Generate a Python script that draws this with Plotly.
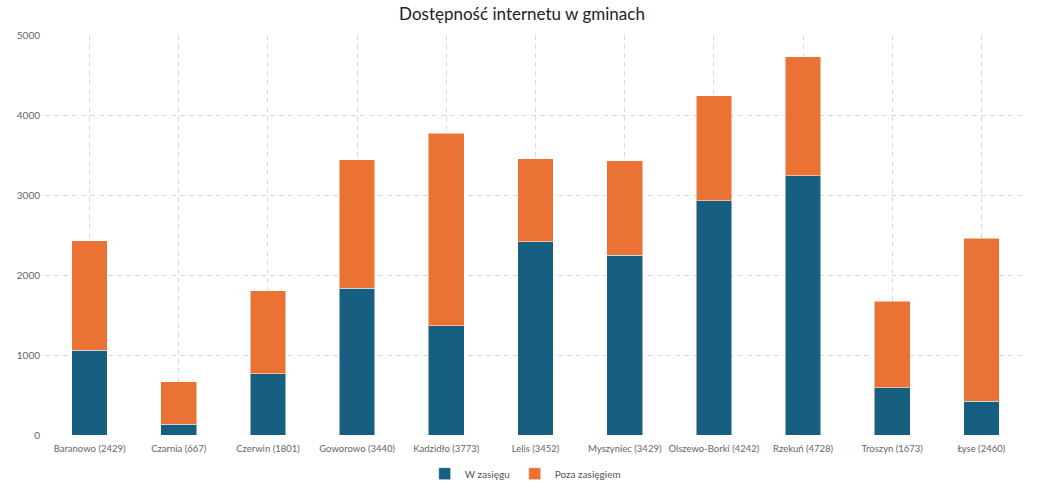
import plotly.graph_objects as go

categories = ["Baranowo (2429)", "Czarnia (667)", "Czerwin (1801)", "Goworowo (3440)",
              "Kadzidło (3773)", "Lelis (3452)", "Myszyniec (3429)", "Olszewo-Borki (4242)",
              "Rzekuń (4728)", "Troszyn (1673)", "Łyse (2460)"]
totals = [2429, 667, 1801, 3440, 3773, 3452, 3429, 4242, 4728, 1673, 2460]
w_zasiegu = [1062, 137, 766, 1833, 1367, 2417, 2246, 2929, 3242, 591, 425]
poza_zasiegiem = [t - w for t, w in zip(totals, w_zasiegu)]

BLUE = "#175f81"
ORANGE = "#e97234"

fig = go.Figure()
fig.add_trace(go.Bar(x=categories, y=w_zasiegu, name="W zasięgu",
                     marker=dict(color=BLUE, line=dict(color="rgba(255,255,255,0.5)", width=1)),
                     width=0.4))
fig.add_trace(go.Bar(x=categories, y=poza_zasiegiem, name="Poza zasięgiem",
                     marker=dict(color=ORANGE, line=dict(color="rgba(255,255,255,0.5)", width=1)),
                     width=0.4))

fig.update_layout(
    barmode="stack",
    width=1044, height=496,
    margin=dict(l=45, r=18, t=35, b=61, autoexpand=False),
    paper_bgcolor="white", plot_bgcolor="white",
    font=dict(family="Lato", color="#666666", size=10),
    title=dict(text="Dostępność internetu w gminach", x=0.5, xanchor="center",
               y=0.972, yanchor="middle", font=dict(size=17, color="#222222", family="Lato")),
    legend=dict(orientation="h", x=0.49, xanchor="center", yref="container",
                y=0.045, yanchor="middle", itemwidth=30,
                font=dict(size=10, color="#555555"), traceorder="normal"),
    xaxis=dict(showgrid=True, gridcolor="#d9d9d9", griddash="5px,4px", gridwidth=1,
               tickfont=dict(size=9.5, color="#666666"), ticks="", showline=False,
               zeroline=False, ticklabelstandoff=6, automargin=False),
    yaxis=dict(range=[0, 5000], tickvals=[0, 1000, 2000, 3000, 4000, 5000],
               showgrid=True, gridcolor="#d9d9d9", griddash="5px,4px", gridwidth=1,
               tickfont=dict(size=10, color="#666666"), zeroline=False, showline=False,
               ticklabelstandoff=4, automargin=False),
)

fig.write_html("out.html")
